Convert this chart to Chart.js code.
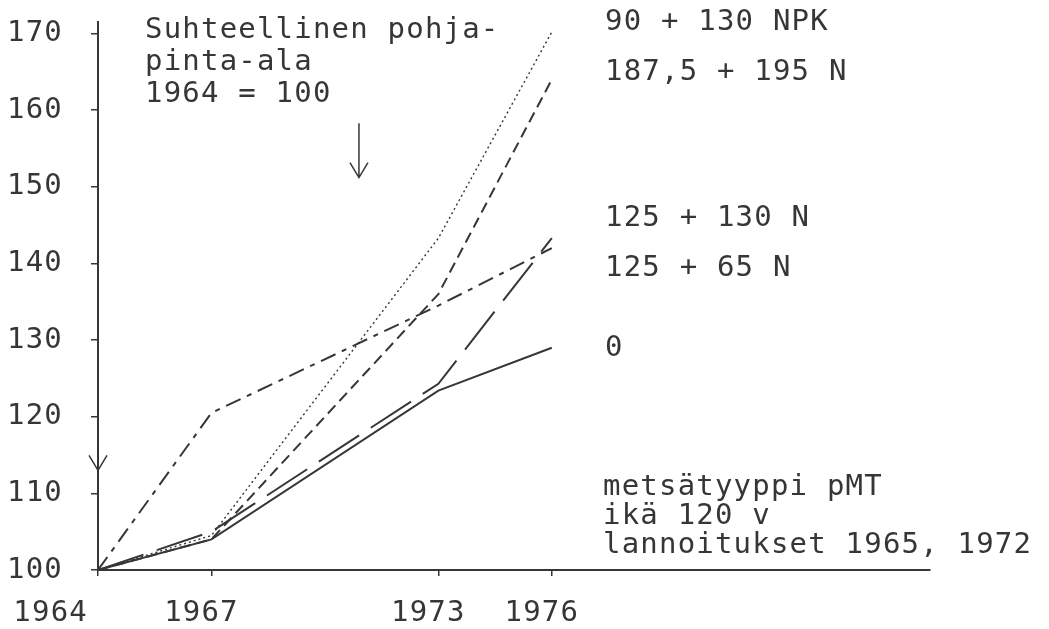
<!DOCTYPE html>
<html>
<head>
<meta charset="utf-8">
<script src="https://cdn.jsdelivr.net/npm/chart.js@4.4.1/dist/chart.umd.min.js"></script>
<style>
  html, body { margin: 0; padding: 0; background: #fff; }
  #wrap { width: 1049px; height: 629px; }
</style>
</head>
<body>
<div id="wrap"><canvas id="chart" width="1049" height="629"></canvas></div>
<script>
// data
const years = [1964, 1967, 1973, 1976];
const yearTicks = [1964, 1967, 1973, 1976];
const valueTicks = [100, 110, 120, 130, 140, 150, 160, 170];

const npk90_130 = [100, 104.5, 143.3, 170.2];
const n187_195 = [100, 104, 136, 164];
const n125_130 = [100, 105, 124.3, 143.3];
const n125_65 = [100, 120.5, 134.5, 142];
const control0 = [100, 104, 123.4, 129];

const seriesLabels = ['90 + 130 NPK', '187,5 + 195 N', '125 + 130 N', '125 + 65 N', '0'];
const noteLines = ['Suhteellinen pohja-', 'pinta-ala', '1964 = 100'];
const siteLines = ['metsätyyppi pMT', 'ikä 120 v', 'lannoitukset 1965, 1972'];

const INK = '#363636';
const FONT = "'DejaVu Sans Mono', 'Liberation Mono', monospace";

function pts(vals) {
  return years.map((y, i) => ({ x: y, y: vals[i] }));
}

function line(label, vals, dash, width) {
  return {
    label: label,
    data: pts(vals),
    borderColor: INK,
    borderWidth: width || 2,
    borderDash: dash,
    pointRadius: 0,
    fill: false,
    tension: 0
  };
}

// text and arrows around the plot
const notes = {
  id: 'notes',
  beforeDraw(chart) {
    chart.ctx.letterSpacing = '1.2px';
  },
  afterDraw(chart) {
    const ctx = chart.ctx;
    const xs = chart.scales.x, ys = chart.scales.y;
    ctx.save();
    ctx.fillStyle = INK;
    ctx.strokeStyle = INK;
    ctx.font = '29px ' + FONT;
    ctx.textBaseline = 'middle';
    ctx.textAlign = 'left';

    noteLines.forEach((t, i) => ctx.fillText(t, 145, 30 + i * 32));

    // right-hand labels at the series ends
    const labelY = [22, 72, 218, 268, 348];
    seriesLabels.forEach((t, i) => ctx.fillText(t, 605, labelY[i]));
    siteLines.forEach((t, i) => ctx.fillText(t, 603, 487 + i * 29));

    // arrows
    ctx.lineWidth = 1.5;
    const arrow = (x, y1, y2) => {
      ctx.beginPath();
      ctx.moveTo(x, y1);
      ctx.lineTo(x, y2);
      ctx.moveTo(x - 9, y2 - 15);
      ctx.lineTo(x, y2);
      ctx.lineTo(x + 9, y2 - 15);
      ctx.stroke();
    };
    arrow(xs.getPixelForValue(1970.9), ys.getPixelForValue(158.3), ys.getPixelForValue(151.2));
    arrow(xs.getPixelForValue(1964), ys.getPixelForValue(116), ys.getPixelForValue(113));
    ctx.restore();
  }
};

new Chart(document.getElementById('chart'), {
  type: 'line',
  data: {
    datasets: [
      line(seriesLabels[0], npk90_130, [2, 3], 1.4),
      line(seriesLabels[1], n187_195, [11, 6]),
      line(seriesLabels[2], n125_130, [48, 14]),
      line(seriesLabels[3], n125_65, [16, 7, 5, 7]),
      line(seriesLabels[4], control0, [])
    ]
  },
  plugins: [notes],
  options: {
    responsive: false,
    animation: false,
    layout: { padding: { top: 22, right: 119, left: 0, bottom: 0 } },
    plugins: {
      legend: { display: false },
      tooltip: { enabled: false }
    },
    scales: {
      x: {
        type: 'linear',
        min: 1964,
        max: 1986,
        afterBuildTicks: (s) => { s.ticks = yearTicks.map(v => ({ value: v })); },
        afterFit: (s) => { s.height = 59; s.paddingLeft = 0; s.paddingRight = 0; },
        ticks: {
          color: INK,
          font: { family: FONT, size: 29 },
          padding: 20,
          labelOffset: -10,
          maxRotation: 0,
          autoSkip: false,
          callback: (v) => v === 1964 ? '1964    ' : String(v)
        },
        grid: { drawOnChartArea: false, drawTicks: true, tickLength: 6, color: INK, lineWidth: 1.5 },
        border: { display: true, color: INK, width: 2 }
      },
      y: {
        min: 100,
        max: 171.5,
        afterBuildTicks: (s) => { s.ticks = valueTicks.map(v => ({ value: v })); },
        afterFit: (s) => { s.width = 98; s.paddingTop = 0; s.paddingBottom = 0; },
        ticks: {
          color: INK,
          font: { family: FONT, size: 29 },
          padding: 28
        },
        grid: { drawOnChartArea: false, drawTicks: true, tickLength: 7, color: INK, lineWidth: 1.5 },
        border: { display: true, color: INK, width: 2 }
      }
    }
  }
});
</script>
</body>
</html>
